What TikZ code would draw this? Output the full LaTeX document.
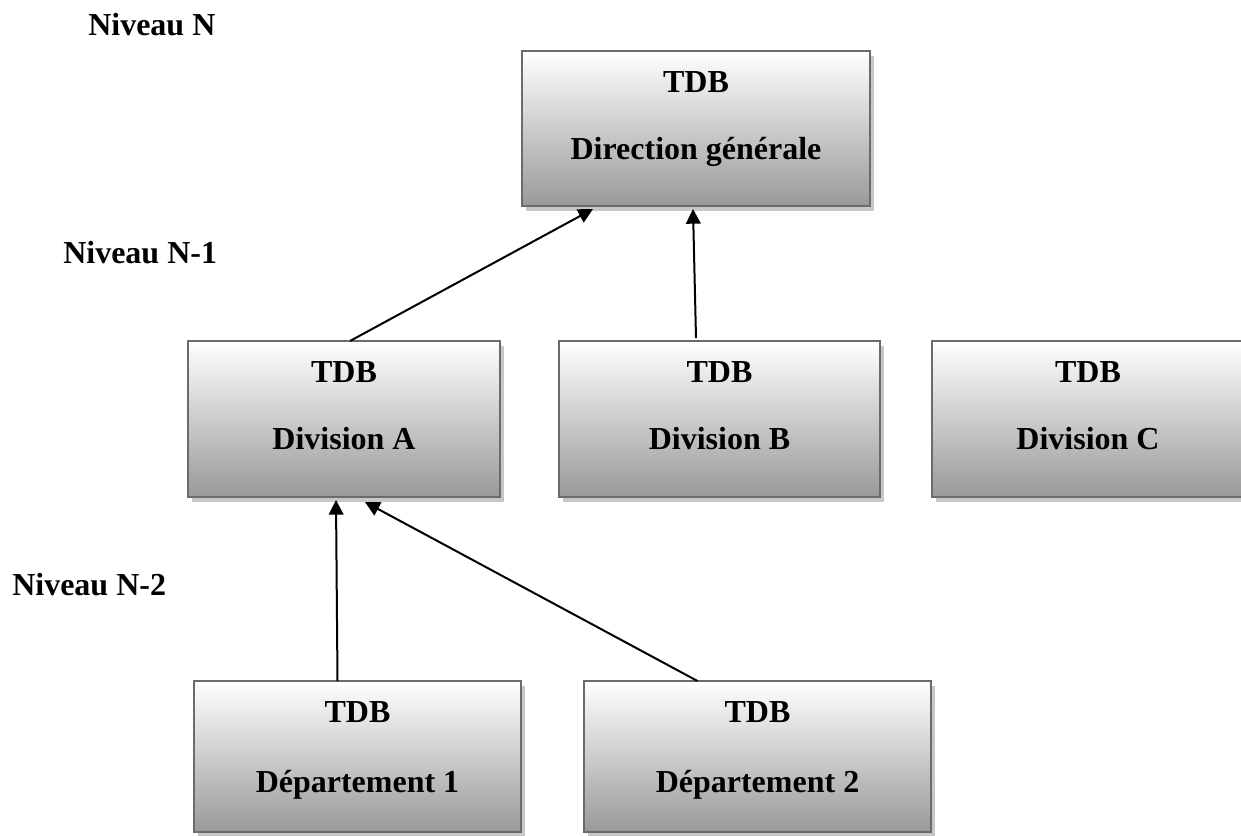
\documentclass[tikz,border=0pt]{standalone}
\usepackage{fontspec}
\setmainfont{Liberation Serif}
\usetikzlibrary{arrows.meta,shadows,calc}
\begin{document}
\begin{tikzpicture}[x=0.75pt,y=-0.75pt,
  tdbbox/.style={draw=black!58, line width=1.6pt,
    top color=white, bottom color=black!40,
    inner sep=0pt, outer sep=0pt,
    drop shadow={shadow xshift=3pt, shadow yshift=-4pt, fill=black!22, opacity=1}},
  txt/.style={font=\bfseries\fontsize{24}{29}\selectfont, inner sep=0pt, anchor=base},
  lvl/.style={font=\bfseries\fontsize{24}{29}\selectfont, inner sep=0pt, anchor=base west},
  link/.style={line width=1.5pt, -{Triangle[length=11pt,width=11pt]}}]
\clip (0,0) rectangle (1241,835);
\fill[white] (0,0) rectangle (1241,835);

% level labels
\node[lvl] (lN)  at (88,35)  {Niveau N};
\node[lvl] (lN1) at (63,263) {Niveau N-1};
\node[lvl] (lN2) at (12,595) {Niveau N-2};

% boxes
\node[tdbbox, minimum width=348*0.75pt, minimum height=155*0.75pt] (top)  at (696,128.5) {};
\node[tdbbox, minimum width=312*0.75pt, minimum height=156*0.75pt] (divA) at (344,419) {};
\node[tdbbox, minimum width=321*0.75pt, minimum height=156*0.75pt] (divB) at (719.5,419) {};
\node[tdbbox, minimum width=312*0.75pt, minimum height=156*0.75pt] (divC) at (1088,419) {};
\node[tdbbox, minimum width=327*0.75pt, minimum height=151*0.75pt] (dep1) at (357.5,756.5) {};
\node[tdbbox, minimum width=347*0.75pt, minimum height=151*0.75pt] (dep2) at (757.5,756.5) {};

% box texts
\node[txt] (topT) at ($(top.north)+(0,41)$)  {TDB};
\node[txt] (topL) at ($(top.north)+(0,108)$) {Direction générale};
\node[txt] (aT) at ($(divA.north)+(0,41)$)  {TDB};
\node[txt] (aL) at ($(divA.north)+(0,108)$) {Division A};
\node[txt] (bT) at ($(divB.north)+(0,41)$)  {TDB};
\node[txt] (bL) at ($(divB.north)+(0,108)$) {Division B};
\node[txt] (cT) at ($(divC.north)+(0,41)$)  {TDB};
\node[txt] (cL) at ($(divC.north)+(0,108)$) {Division C};
\node[txt] (d1T) at ($(dep1.north)+(0,41)$)  {TDB};
\node[txt] (d1L) at ($(dep1.north)+(0,111)$) {Département 1};
\node[txt] (d2T) at ($(dep2.north)+(0,41)$)  {TDB};
\node[txt] (d2L) at ($(dep2.north)+(0,111)$) {Département 2};

% reporting links
\draw[link] ($(divA.north)+(6,0)$) -- ($(top.south)+(-103,3)$);
\draw[link] ($(divB.north)+(-23.5,-3)$) -- ($(top.south)+(-3,3)$);
\draw[link] ($(dep1.north)+(-20,0)$) -- ($(divA.south)+(-8,3)$);
\draw[link] ($(dep2.north)+(-60,0)$) -- ($(divA.south)+(21,5)$);
\end{tikzpicture}
\end{document}
